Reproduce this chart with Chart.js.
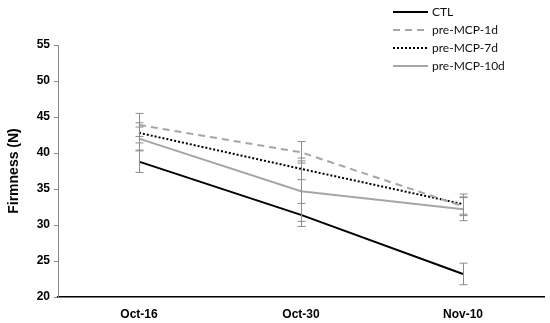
<!DOCTYPE html>
<html><head><meta charset="utf-8">
<script src="https://cdn.jsdelivr.net/npm/chart.js@4/dist/chart.umd.min.js"></script>
<style>html,body{margin:0;padding:0;background:#fff}#wrap{width:550px;height:323px}</style>
</head><body><div id="wrap"><canvas id="c" width="550" height="323"></canvas></div>
<script>
const categories = ['Oct-16', 'Oct-30', 'Nov-10'];
const seriesNames = ['CTL', 'pre-MCP-1d', 'pre-MCP-7d', 'pre-MCP-10d'];
const ctl = [38.8, 31.4, 23.2];
const mcp1d = [43.9, 40.1, 32.6];
const mcp7d = [42.8, 37.8, 32.9];
const mcp10d = [42.0, 34.7, 32.2];
const ctlErr = [1.5, 1.6, 1.5];
const mcp1dErr = [1.6, 1.5, 1.3];
const mcp7dErr = [1.4, 1.5, 1.4];
const mcp10dErr = [1.6, 4.2, 1.6];
const yTicks = [20, 25, 30, 35, 40, 45, 50, 55];

const styles = [
  {color:'#000000', dash:[]},
  {color:'#a6a6a6', dash:[7,5]},
  {color:'#000000', dash:[2,2]},
  {color:'#a6a6a6', dash:[]}
];
const values = [ctl, mcp1d, mcp7d, mcp10d];
const errs = [ctlErr, mcp1dErr, mcp7dErr, mcp10dErr];

const errorBars = {
  id: 'errorBars',
  afterDatasetsDraw(chart) {
    const ctx = chart.ctx, xs = chart.scales.x, ys = chart.scales.y;
    ctx.save();
    ctx.strokeStyle = '#8c8c8c';
    ctx.lineWidth = 1;
    chart.data.datasets.forEach(ds => {
      ds.data.forEach((v, i) => {
        const e = ds.err[i];
        const x = Math.round(xs.getPixelForValue(i)) + 0.5;
        const yt = ys.getPixelForValue(v + e), yb = ys.getPixelForValue(v - e);
        ctx.beginPath();
        ctx.moveTo(x, yt); ctx.lineTo(x, yb);
        ctx.moveTo(x - 4, yt); ctx.lineTo(x + 4, yt);
        ctx.moveTo(x - 4, yb); ctx.lineTo(x + 4, yb);
        ctx.stroke();
      });
    });
    ctx.restore();
  }
};

const customLegend = {
  id: 'customLegend',
  afterDraw(chart) {
    const ctx = chart.ctx;
    ctx.save();
    ctx.font = '12px Lato, "Liberation Sans", sans-serif';
    ctx.textBaseline = 'middle';
    chart.data.datasets.forEach((ds, i) => {
      const y = 12 + i * 18;
      ctx.strokeStyle = ds.borderColor;
      ctx.lineWidth = 2;
      ctx.setLineDash(ds.borderDash);
      ctx.beginPath();
      ctx.moveTo(393, y); ctx.lineTo(428, y);
      ctx.stroke();
      ctx.setLineDash([]);
      ctx.fillStyle = '#111';
      ctx.fillText(ds.label, 432, y);
    });
    ctx.restore();
  }
};

new Chart(document.getElementById('c'), {
  type: 'line',
  data: {
    labels: categories,
    datasets: seriesNames.map((n, i) => ({
      label: n,
      data: values[i],
      err: errs[i],
      borderColor: styles[i].color,
      borderDash: styles[i].dash,
      borderWidth: 2,
      pointRadius: 0,
      tension: 0,
      fill: false
    }))
  },
  options: {
    responsive: false,
    animation: false,
    layout: {padding: {top: 45, right: 6, left: 0, bottom: 0}},
    plugins: {legend: {display: false}, tooltip: {enabled: false}},
    scales: {
      x: {
        offset: true,
        grid: {display: false},
        border: {display: true, color: '#000', width: 1.5},
        ticks: {color: '#000', font: {family: 'Liberation Sans, Arial', size: 12, weight: 'bold'}, padding: 2},
        afterFit(s) { s.height = 26; }
      },
      y: {
        min: 20, max: 55,
        afterBuildTicks(s) { s.ticks = yTicks.map(v => ({value: v})); },
        grid: {drawOnChartArea: false, drawTicks: true, tickLength: 4, color: '#888'},
        border: {display: true, color: '#888', width: 1},
        ticks: {color: '#000', font: {family: 'Liberation Sans, Arial', size: 12, weight: 'bold'}, padding: 4},
        title: {display: true, text: 'Firmness (N)', color: '#000', font: {family: 'Liberation Sans, Arial', size: 14, weight: 'bold'}, padding: {top: 6, bottom: 0}},
        afterFit(s) { s.width = 58; }
      }
    }
  },
  plugins: [errorBars, customLegend]
});
</script></body></html>
